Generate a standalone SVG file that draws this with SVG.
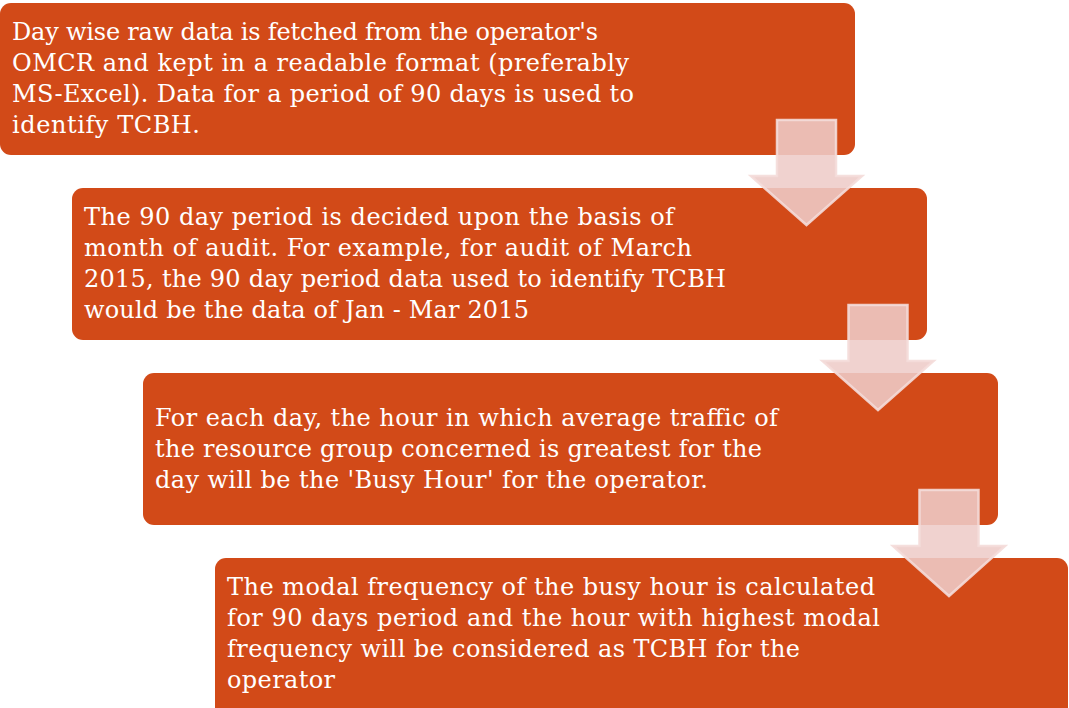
<svg xmlns="http://www.w3.org/2000/svg" width="1069" height="708" viewBox="0 0 1069 708">
<style>
.box{fill:#D24A18;}
.t{font-family:"DejaVu Serif","Liberation Serif",serif;font-size:24px;fill:#ffffff;}
.arr{fill:#EECCC8;fill-opacity:0.88;stroke:#F4DCD9;stroke-width:2.5;stroke-opacity:0.9;stroke-linejoin:miter;}
</style>
<rect width="1069" height="708" fill="#ffffff"/>
<g id="node1">
<rect class="box" x="0" y="3" width="855" height="152" rx="11"/>
<text class="t"><tspan x="12" y="40" textLength="586">Day wise raw data is fetched from the operator's</tspan><tspan x="12" y="71" textLength="617">OMCR and kept in a readable format (preferably</tspan><tspan x="12" y="102" textLength="622">MS-Excel). Data for a period of 90 days is used to</tspan><tspan x="12" y="133" textLength="188">identify TCBH.</tspan></text>
</g>
<g id="node2">
<rect class="box" x="72" y="188" width="855" height="152" rx="11"/>
<text class="t"><tspan x="84" y="225" textLength="590">The 90 day period is decided upon the basis of</tspan><tspan x="84" y="256" textLength="608">month of audit. For example, for audit of March</tspan><tspan x="84" y="287" textLength="642">2015, the 90 day period data used to identify TCBH</tspan><tspan x="84" y="318" textLength="445">would be the data of Jan - Mar 2015</tspan></text>
</g>
<g id="node3">
<rect class="box" x="143" y="373" width="855" height="152" rx="11"/>
<text class="t"><tspan x="155" y="425.5" textLength="623">For each day, the hour in which average traffic of</tspan><tspan x="155" y="456.5" textLength="607">the resource group concerned is greatest for the</tspan><tspan x="155" y="487.5" textLength="553">day will be the 'Busy Hour' for the operator.</tspan></text>
</g>
<g id="node4">
<rect class="box" x="215" y="558" width="853" height="170" rx="11"/>
<text class="t"><tspan x="227" y="595" textLength="648">The modal frequency of the busy hour is calculated</tspan><tspan x="227" y="626" textLength="653">for 90 days period and the hour with highest modal</tspan><tspan x="227" y="657" textLength="573">frequency will be considered as TCBH for the</tspan><tspan x="227" y="688" textLength="108">operator</tspan></text>
</g>
<g id="connectors">
<path class="arr" d="M777,120 H836 V176 H862 L806.5,225 L751,176 H777 Z"/>
<path class="arr" d="M848.5,305 H907.5 V361 H933.5 L878,410 L822.5,361 H848.5 Z"/>
<path class="arr" d="M919.5,490 H978.5 V546 H1005 L949,596 L893,546 H919.5 Z"/>
</g>
</svg>
